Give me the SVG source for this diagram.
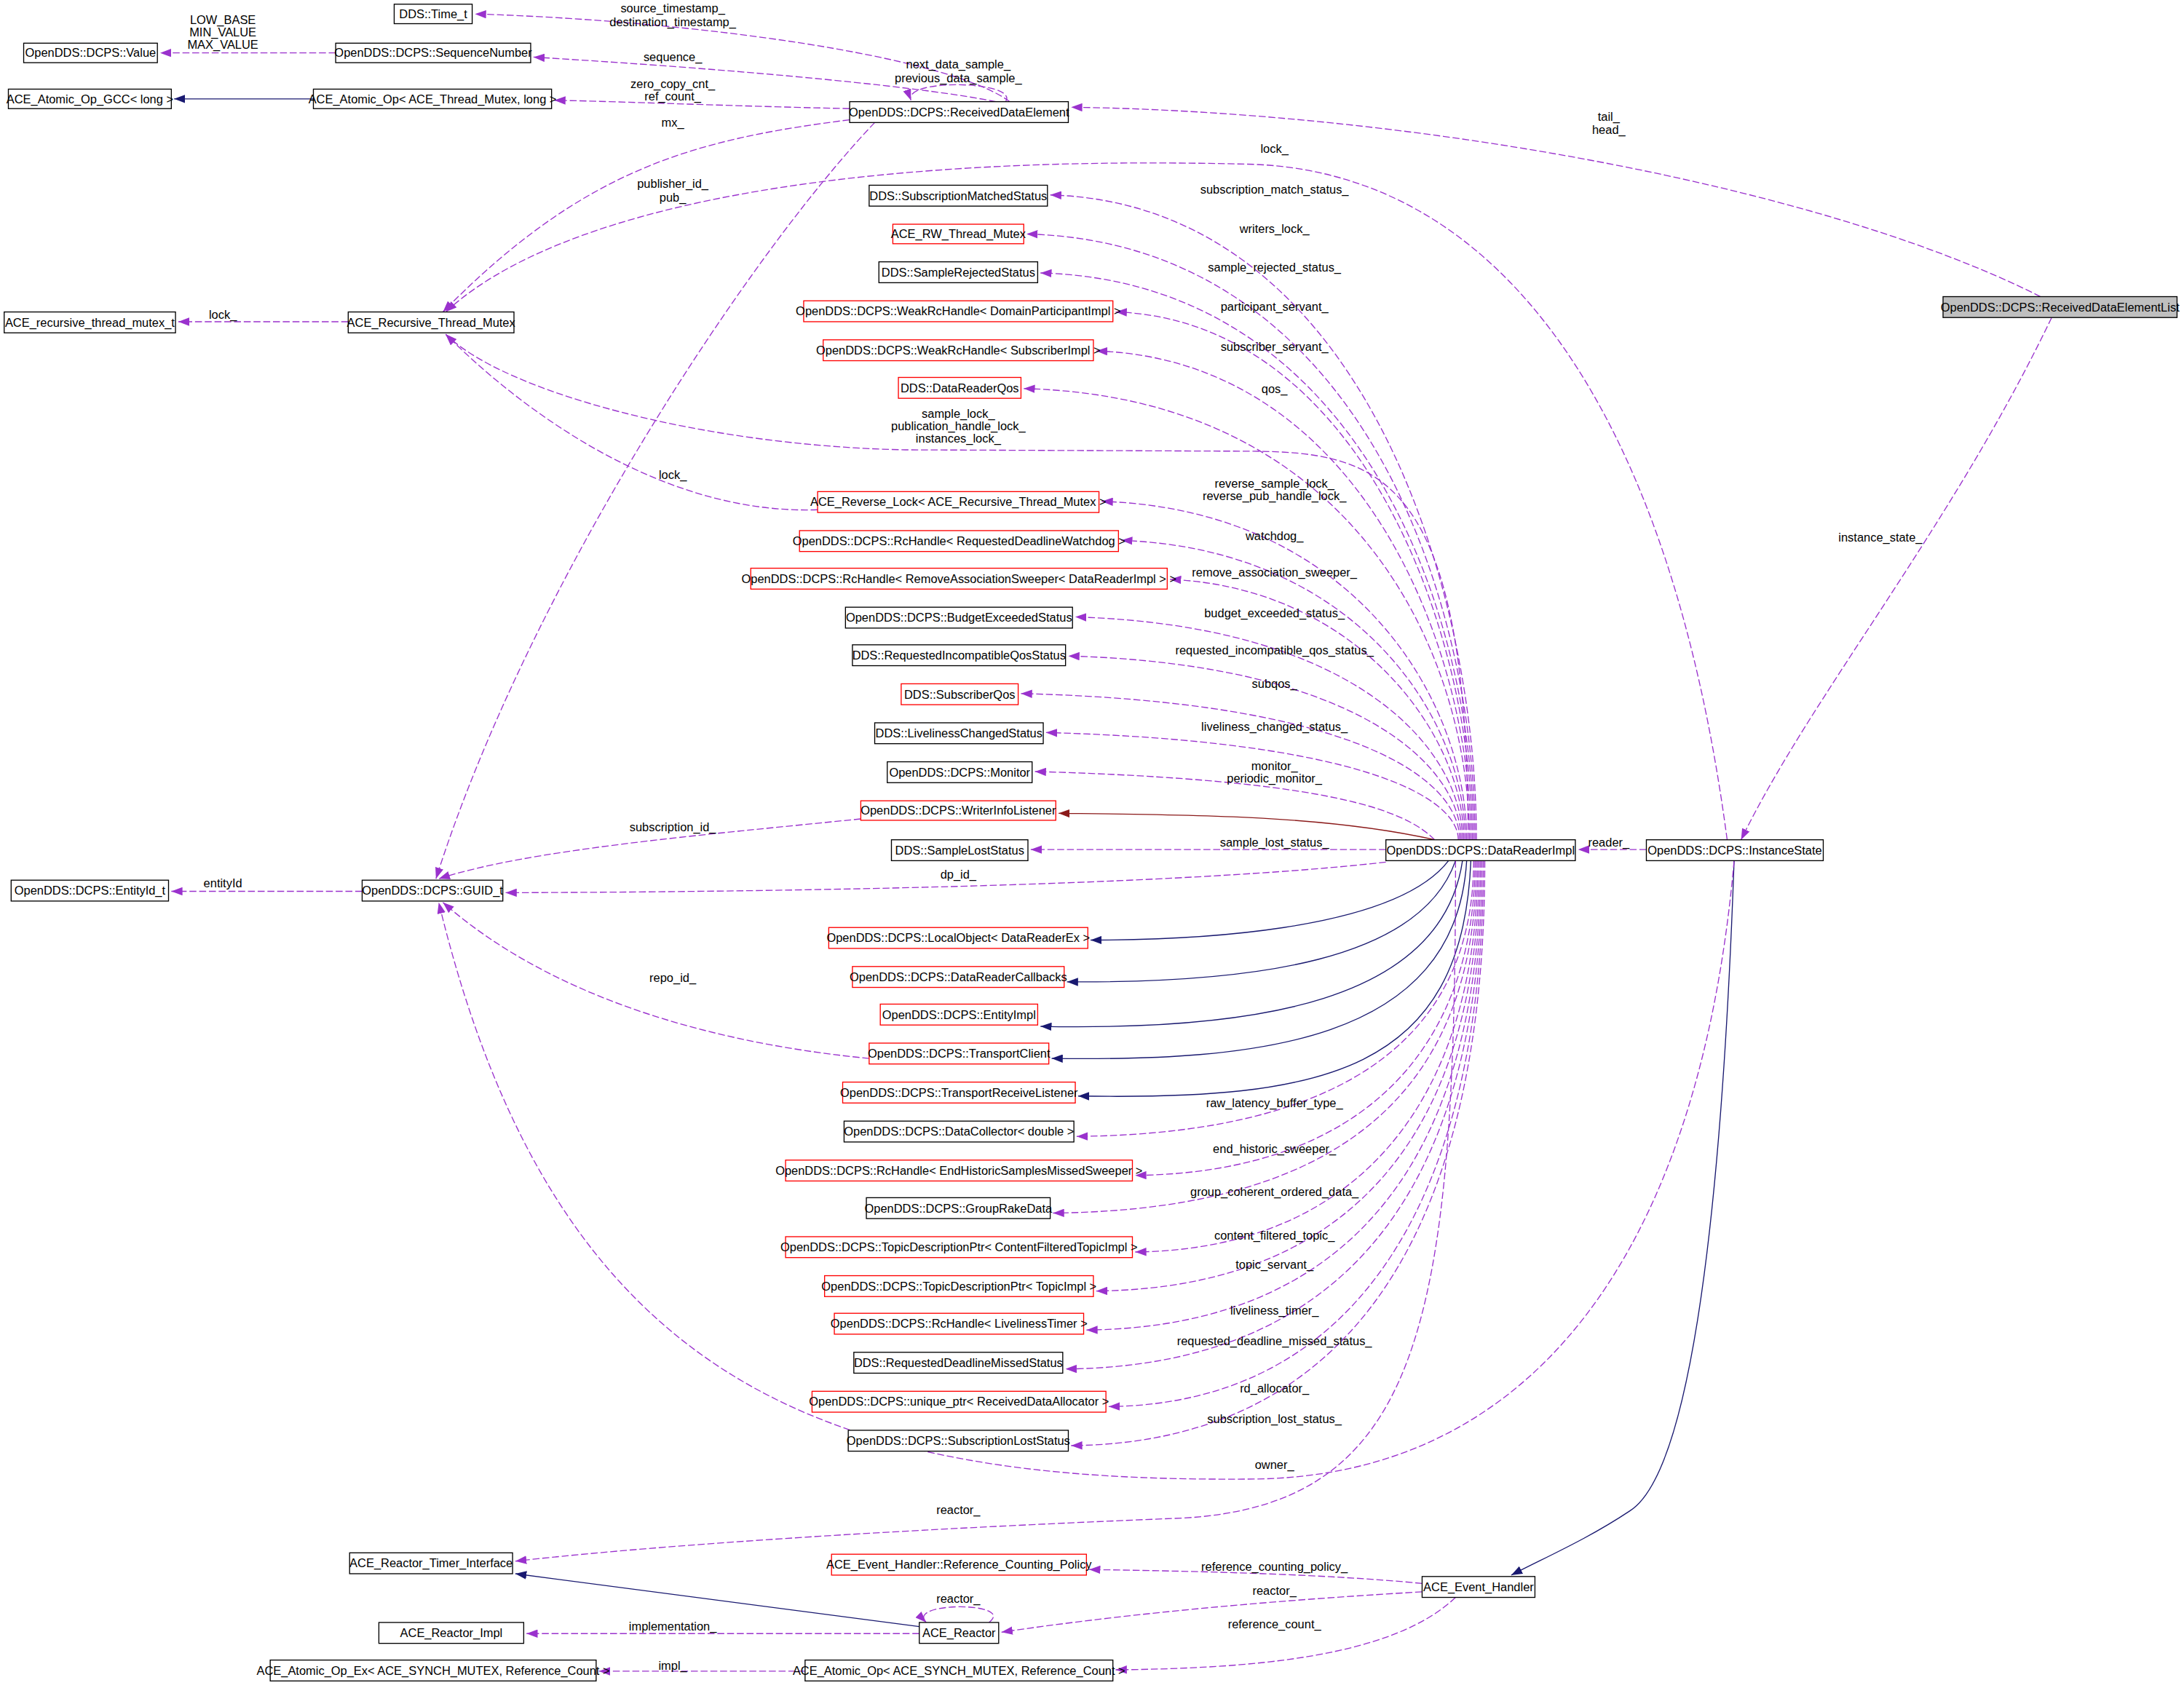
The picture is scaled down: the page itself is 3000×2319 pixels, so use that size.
<svg xmlns="http://www.w3.org/2000/svg" width="3000" height="2319" viewBox="0 0 3000 2319">
<style>
.n rect{fill:#fff;stroke:#000;stroke-width:0.7}
.r rect{stroke:#ff0000}
.g rect{fill:#bfbfbf}
text{font-family:"Liberation Sans",Arial,sans-serif;font-size:8.6px;fill:#000}
.n text{text-anchor:middle}
.l{text-anchor:middle}
.e path{fill:none;stroke-width:0.7}
.d{stroke:#9a32cd;stroke-dasharray:5,2;marker-end:url(#mp)}
.i{stroke:#191970;marker-end:url(#mb)}
.w{stroke:#8b1a1a;marker-end:url(#mr)}
</style>
<defs>
<marker id="mp" markerUnits="userSpaceOnUse" markerWidth="8" markerHeight="6" refX="8" refY="3" orient="auto"><path d="M0,0L8,3L0,6z" fill="#9a32cd"/></marker>
<marker id="mb" markerUnits="userSpaceOnUse" markerWidth="8" markerHeight="6" refX="8" refY="3" orient="auto"><path d="M0,0L8,3L0,6z" fill="#191970"/></marker>
<marker id="mr" markerUnits="userSpaceOnUse" markerWidth="8" markerHeight="6" refX="8" refY="3" orient="auto"><path d="M0,0L8,3L0,6z" fill="#8b1a1a"/></marker>
</defs>
<rect width="3000" height="2319" fill="#fff"/>
<g transform="scale(1.91327)">
<g id="connectors" class="e">
<path class="d" d="M725,73 C680,40 500,15 341,10"/>
<path class="d" d="M715,73 C650,60 500,48 383,41"/>
<path class="d" d="M610,78 C520,76 450,73 398,72"/>
<path class="d" d="M722,73 C732,58 648,56 654,72"/>
<path class="d" d="M241,38 L115,38"/>
<path class="i" d="M225,71 L125,71"/>
<path class="d" d="M1465,213 C1300,130 1000,80 769,77"/>
<path class="d" d="M1473,228 C1400,380 1300,500 1250,603"/>
<path class="d" d="M1182,610 L1133,610"/>
<path class="i" d="M1245,618 C1235,900 1210,1060 1170,1085 C1140,1105 1110,1118 1085,1131"/>
<path class="d" d="M610,86 C500,100 420,120 318,224"/>
<path class="d" d="M1240,603 C1200,300 1080,125 900,118 C600,110 400,150 320,224"/>
<path class="d" d="M628,88 C540,180 380,420 313,631"/>
<path class="d" d="M250,231 L128,231"/>
<path class="d" d="M1060,603 C1060,418 975,146 754,140"/>
<path class="d" d="M1059,603 C1059,429 975,174 737,168"/>
<path class="d" d="M1058,603 C1058,440 975,202 747,196"/>
<path class="d" d="M1057,603 C1057,451 975,230 801,224"/>
<path class="d" d="M1056,603 C1056,463 975,258 787,252"/>
<path class="d" d="M1055,603 C1055,473 975,285 735,279"/>
<path class="d" d="M1054,603 C1054,340 990,325 900,324 L650,323 C500,320 360,280 320,240"/>
<path class="d" d="M587,366 C480,370 380,300 320,240"/>
<path class="d" d="M1053,603 C1053,506 975,366 791,360"/>
<path class="d" d="M1052,603 C1052,517 975,394 805,388"/>
<path class="d" d="M1051,603 C1051,528 975,422 840,416"/>
<path class="d" d="M1050,603 C1050,539 975,449 772,443"/>
<path class="d" d="M1049,603 C1049,550 975,477 767,471"/>
<path class="d" d="M1048,603 C1048,560 975,504 733,498"/>
<path class="d" d="M1047,603 C1047,572 975,532 751,526"/>
<path class="d" d="M1030,603 C1010,583 960,560 743,554"/>
<path class="w" d="M1030,603 C950,585 850,585 760,584"/>
<path class="d" d="M995,610 L740,610"/>
<path class="d" d="M618,588 C500,600 380,610 315,631"/>
<path class="d" d="M995,619 C900,630 700,640 363,641"/>
<path class="d" d="M260,640 L123,640"/>
<path class="i" d="M1040,618 C1000,670 850,675 783,675"/>
<path class="i" d="M1045,618 C1020,690 900,706 766,705"/>
<path class="i" d="M1050,618 C1035,720 900,740 747,737"/>
<path class="i" d="M1053,618 C1045,750 900,762 755,760"/>
<path class="i" d="M1056,618 C1050,770 950,790 774,787"/>
<path class="d" d="M624,760 C520,750 400,720 318,648"/>
<path class="d" d="M1058,618 C1058,734 980,814 773,816"/>
<path class="d" d="M1059,618 C1059,751 980,842 815,844"/>
<path class="d" d="M1060,618 C1060,768 980,869 756,871"/>
<path class="d" d="M1061,618 C1061,784 980,897 815,899"/>
<path class="d" d="M1062,618 C1062,801 980,925 787,927"/>
<path class="d" d="M1063,618 C1063,818 980,953 780,955"/>
<path class="d" d="M1064,618 C1064,835 980,981 765,983"/>
<path class="d" d="M1065,618 C1065,851 980,1008 796,1010"/>
<path class="d" d="M1066,618 C1066,868 980,1036 769,1038"/>
<path class="d" d="M1245,618 C1220,900 1100,1060 900,1062 C600,1065 400,1000 315,648"/>
<path class="d" d="M1045,618 C1045,950 1020,1080 850,1090 C600,1100 450,1112 370,1121"/>
<path class="i" d="M660,1168 L370,1130"/>
<path class="d" d="M660,1173 L378,1173"/>
<path class="d" d="M710,1165 C730,1150 650,1150 665,1165"/>
<path class="d" d="M1021,1137 C950,1130 850,1128 782,1127"/>
<path class="d" d="M1021,1143 C900,1150 800,1160 719,1172"/>
<path class="d" d="M1045,1147 C1000,1190 900,1198 801,1199"/>
<path class="d" d="M578,1200 L430,1200"/>
</g>
<g id="labels" class="l">
<text class="l" x="483" y="9">source_timestamp_</text>
<text class="l" x="483" y="19">destination_timestamp_</text>
<text class="l" x="160" y="17">LOW_BASE</text>
<text class="l" x="160" y="26">MIN_VALUE</text>
<text class="l" x="160" y="35">MAX_VALUE</text>
<text class="l" x="483" y="44">sequence_</text>
<text class="l" x="483" y="63">zero_copy_cnt_</text>
<text class="l" x="483" y="72">ref_count_</text>
<text class="l" x="688" y="49">next_data_sample_</text>
<text class="l" x="688" y="59">previous_data_sample_</text>
<text class="l" x="1155" y="87">tail_</text>
<text class="l" x="1155" y="96">head_</text>
<text class="l" x="483" y="91">mx_</text>
<text class="l" x="915" y="110">lock_</text>
<text class="l" x="483" y="135">publisher_id_</text>
<text class="l" x="483" y="145">pub_</text>
<text class="l" x="915" y="139">subscription_match_status_</text>
<text class="l" x="915" y="167">writers_lock_</text>
<text class="l" x="915" y="195">sample_rejected_status_</text>
<text class="l" x="915" y="223">participant_servant_</text>
<text class="l" x="915" y="252">subscriber_servant_</text>
<text class="l" x="915" y="282">qos_</text>
<text class="l" x="160" y="229">lock_</text>
<text class="l" x="688" y="300">sample_lock_</text>
<text class="l" x="688" y="309">publication_handle_lock_</text>
<text class="l" x="688" y="318">instances_lock_</text>
<text class="l" x="483" y="344">lock_</text>
<text class="l" x="915" y="350">reverse_sample_lock_</text>
<text class="l" x="915" y="359">reverse_pub_handle_lock_</text>
<text class="l" x="915" y="388">watchdog_</text>
<text class="l" x="915" y="414">remove_association_sweeper_</text>
<text class="l" x="915" y="443">budget_exceeded_status_</text>
<text class="l" x="915" y="470">requested_incompatible_qos_status_</text>
<text class="l" x="915" y="494">subqos_</text>
<text class="l" x="915" y="525">liveliness_changed_status_</text>
<text class="l" x="915" y="553">monitor_</text>
<text class="l" x="915" y="562">periodic_monitor_</text>
<text class="l" x="915" y="608">sample_lost_status_</text>
<text class="l" x="483" y="597">subscription_id_</text>
<text class="l" x="1155" y="608">reader_</text>
<text class="l" x="688" y="631">dp_id_</text>
<text class="l" x="160" y="637">entityId</text>
<text class="l" x="1350" y="389">instance_state_</text>
<text class="l" x="483" y="705">repo_id_</text>
<text class="l" x="915" y="795">raw_latency_buffer_type_</text>
<text class="l" x="915" y="828">end_historic_sweeper_</text>
<text class="l" x="915" y="859">group_coherent_ordered_data_</text>
<text class="l" x="915" y="890">content_filtered_topic_</text>
<text class="l" x="915" y="911">topic_servant_</text>
<text class="l" x="915" y="944">liveliness_timer_</text>
<text class="l" x="915" y="966">requested_deadline_missed_status_</text>
<text class="l" x="915" y="1000">rd_allocator_</text>
<text class="l" x="915" y="1022">subscription_lost_status_</text>
<text class="l" x="915" y="1055">owner_</text>
<text class="l" x="688" y="1087">reactor_</text>
<text class="l" x="915" y="1128">reference_counting_policy_</text>
<text class="l" x="915" y="1145">reactor_</text>
<text class="l" x="688" y="1151">reactor_</text>
<text class="l" x="483" y="1171">implementation_</text>
<text class="l" x="915" y="1169">reference_count_</text>
<text class="l" x="483" y="1199">impl_</text>
</g>
<g id="n1" class="n"><rect x="283" y="3" width="56" height="14"/><text x="311" y="13">DDS::Time_t</text></g>
<g id="n2" class="n"><rect x="17" y="31" width="96" height="14"/><text x="65" y="41">OpenDDS::DCPS::Value</text></g>
<g id="n3" class="n"><rect x="241" y="31" width="140" height="14"/><text x="311" y="41">OpenDDS::DCPS::SequenceNumber</text></g>
<g id="n4" class="n"><rect x="6" y="64" width="117" height="14"/><text x="64.5" y="74">ACE_Atomic_Op_GCC&lt; long &gt;</text></g>
<g id="n5" class="n"><rect x="225" y="64" width="171" height="14"/><text x="310.5" y="74">ACE_Atomic_Op&lt; ACE_Thread_Mutex, long &gt;</text></g>
<g id="n6" class="n"><rect x="610" y="73" width="157" height="15"/><text x="688.5" y="83.5">OpenDDS::DCPS::ReceivedDataElement</text></g>
<g id="n7" class="n g"><rect x="1395" y="213" width="168" height="15"/><text x="1479" y="223.5">OpenDDS::DCPS::ReceivedDataElementList</text></g>
<g id="n8" class="n"><rect x="624" y="133" width="128" height="15"/><text x="688" y="143.5">DDS::SubscriptionMatchedStatus</text></g>
<g id="n9" class="n r"><rect x="641" y="161" width="94" height="14"/><text x="688" y="171">ACE_RW_Thread_Mutex</text></g>
<g id="n10" class="n"><rect x="631" y="188" width="114" height="15"/><text x="688" y="198.5">DDS::SampleRejectedStatus</text></g>
<g id="n11" class="n r"><rect x="577" y="216" width="222" height="15"/><text x="688" y="226.5">OpenDDS::DCPS::WeakRcHandle&lt; DomainParticipantImpl &gt;</text></g>
<g id="n12" class="n r"><rect x="591" y="244" width="194" height="15"/><text x="688" y="254.5">OpenDDS::DCPS::WeakRcHandle&lt; SubscriberImpl &gt;</text></g>
<g id="n13" class="n"><rect x="3" y="224" width="123" height="15"/><text x="64.5" y="234.5">ACE_recursive_thread_mutex_t</text></g>
<g id="n14" class="n"><rect x="250" y="224" width="119" height="15"/><text x="309.5" y="234.5">ACE_Recursive_Thread_Mutex</text></g>
<g id="n15" class="n r"><rect x="645" y="271" width="88" height="15"/><text x="689" y="281.5">DDS::DataReaderQos</text></g>
<g id="n16" class="n r"><rect x="587" y="353" width="202" height="15"/><text x="688" y="363.5">ACE_Reverse_Lock&lt; ACE_Recursive_Thread_Mutex &gt;</text></g>
<g id="n17" class="n r"><rect x="574" y="381" width="229" height="15"/><text x="688.5" y="391.5">OpenDDS::DCPS::RcHandle&lt; RequestedDeadlineWatchdog &gt;</text></g>
<g id="n18" class="n r"><rect x="539" y="408" width="299" height="15"/><text x="688.5" y="418.5">OpenDDS::DCPS::RcHandle&lt; RemoveAssociationSweeper&lt; DataReaderImpl &gt; &gt;</text></g>
<g id="n19" class="n"><rect x="607" y="436" width="163" height="15"/><text x="688.5" y="446.5">OpenDDS::DCPS::BudgetExceededStatus</text></g>
<g id="n20" class="n"><rect x="612" y="463" width="153" height="15"/><text x="688.5" y="473.5">DDS::RequestedIncompatibleQosStatus</text></g>
<g id="n21" class="n r"><rect x="647" y="491" width="84" height="15"/><text x="689" y="501.5">DDS::SubscriberQos</text></g>
<g id="n22" class="n"><rect x="628" y="519" width="121" height="15"/><text x="688.5" y="529.5">DDS::LivelinessChangedStatus</text></g>
<g id="n23" class="n"><rect x="637" y="547" width="104" height="15"/><text x="689" y="557.5">OpenDDS::DCPS::Monitor</text></g>
<g id="n24" class="n r"><rect x="618" y="575" width="140" height="14"/><text x="688" y="585">OpenDDS::DCPS::WriterInfoListener</text></g>
<g id="n25" class="n"><rect x="640" y="603" width="98" height="15"/><text x="689" y="613.5">DDS::SampleLostStatus</text></g>
<g id="n26" class="n"><rect x="995" y="603" width="136" height="15"/><text x="1063" y="613.5">OpenDDS::DCPS::DataReaderImpl</text></g>
<g id="n27" class="n"><rect x="1182" y="603" width="127" height="15"/><text x="1245.5" y="613.5">OpenDDS::DCPS::InstanceState</text></g>
<g id="n28" class="n"><rect x="8" y="632" width="113" height="15"/><text x="64.5" y="642.5">OpenDDS::DCPS::EntityId_t</text></g>
<g id="n29" class="n"><rect x="260" y="632" width="101" height="15"/><text x="310.5" y="642.5">OpenDDS::DCPS::GUID_t</text></g>
<g id="n30" class="n r"><rect x="595" y="666" width="186" height="15"/><text x="688" y="676.5">OpenDDS::DCPS::LocalObject&lt; DataReaderEx &gt;</text></g>
<g id="n31" class="n r"><rect x="612" y="694" width="152" height="15"/><text x="688" y="704.5">OpenDDS::DCPS::DataReaderCallbacks</text></g>
<g id="n32" class="n r"><rect x="632" y="721" width="113" height="15"/><text x="688.5" y="731.5">OpenDDS::DCPS::EntityImpl</text></g>
<g id="n33" class="n r"><rect x="624" y="749" width="129" height="15"/><text x="688.5" y="759.5">OpenDDS::DCPS::TransportClient</text></g>
<g id="n34" class="n r"><rect x="605" y="777" width="167" height="15"/><text x="688.5" y="787.5">OpenDDS::DCPS::TransportReceiveListener</text></g>
<g id="n35" class="n"><rect x="606" y="805" width="165" height="15"/><text x="688.5" y="815.5">OpenDDS::DCPS::DataCollector&lt; double &gt;</text></g>
<g id="n36" class="n r"><rect x="564" y="833" width="249" height="15"/><text x="688.5" y="843.5">OpenDDS::DCPS::RcHandle&lt; EndHistoricSamplesMissedSweeper &gt;</text></g>
<g id="n37" class="n"><rect x="622" y="860" width="132" height="15"/><text x="688" y="870.5">OpenDDS::DCPS::GroupRakeData</text></g>
<g id="n38" class="n r"><rect x="564" y="888" width="249" height="15"/><text x="688.5" y="898.5">OpenDDS::DCPS::TopicDescriptionPtr&lt; ContentFilteredTopicImpl &gt;</text></g>
<g id="n39" class="n r"><rect x="592" y="916" width="193" height="15"/><text x="688.5" y="926.5">OpenDDS::DCPS::TopicDescriptionPtr&lt; TopicImpl &gt;</text></g>
<g id="n40" class="n r"><rect x="599" y="943" width="179" height="15"/><text x="688.5" y="953.5">OpenDDS::DCPS::RcHandle&lt; LivelinessTimer &gt;</text></g>
<g id="n41" class="n"><rect x="613" y="971" width="150" height="15"/><text x="688" y="981.5">DDS::RequestedDeadlineMissedStatus</text></g>
<g id="n42" class="n r"><rect x="583" y="999" width="211" height="15"/><text x="688.5" y="1009.5">OpenDDS::DCPS::unique_ptr&lt; ReceivedDataAllocator &gt;</text></g>
<g id="n43" class="n"><rect x="609" y="1027" width="158" height="15"/><text x="688" y="1037.5">OpenDDS::DCPS::SubscriptionLostStatus</text></g>
<g id="n44" class="n"><rect x="251" y="1115" width="117" height="15"/><text x="309.5" y="1125.5">ACE_Reactor_Timer_Interface</text></g>
<g id="n45" class="n r"><rect x="597" y="1116" width="183" height="15"/><text x="688.5" y="1126.5">ACE_Event_Handler::Reference_Counting_Policy</text></g>
<g id="n46" class="n"><rect x="1021" y="1132" width="81" height="15"/><text x="1061.5" y="1142.5">ACE_Event_Handler</text></g>
<g id="n47" class="n"><rect x="272" y="1165" width="104" height="15"/><text x="324" y="1175.5">ACE_Reactor_Impl</text></g>
<g id="n48" class="n"><rect x="660" y="1165" width="57" height="15"/><text x="688.5" y="1175.5">ACE_Reactor</text></g>
<g id="n49" class="n"><rect x="194" y="1192" width="234" height="15"/><text x="311" y="1202.5">ACE_Atomic_Op_Ex&lt; ACE_SYNCH_MUTEX, Reference_Count &gt;</text></g>
<g id="n50" class="n"><rect x="578" y="1192" width="221" height="15"/><text x="688.5" y="1202.5">ACE_Atomic_Op&lt; ACE_SYNCH_MUTEX, Reference_Count &gt;</text></g>
</g>
</svg>
